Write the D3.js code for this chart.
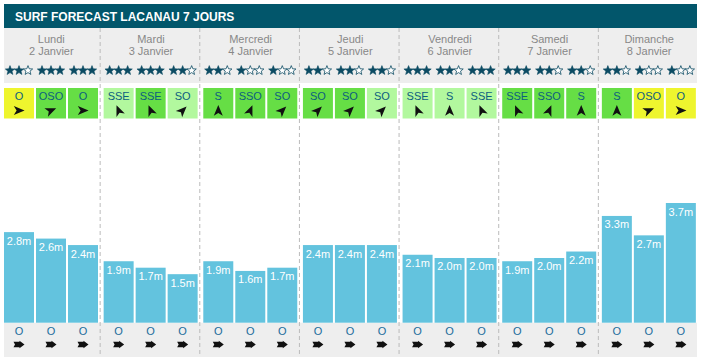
<!DOCTYPE html>
<html>
<head>
<meta charset="utf-8">
<script src="https://cdn.jsdelivr.net/npm/d3@7"></script>
<style>
  body { margin: 0; background: #fff; }
  text { font-family: "Liberation Sans", Arial, sans-serif; }
</style>
</head>
<body>
<div id="chart"></div>
<script>
// donnees
var days = ["Lundi", "Mardi", "Mercredi", "Jeudi", "Vendredi", "Samedi", "Dimanche"];
var dates = ["2 Janvier", "3 Janvier", "4 Janvier", "5 Janvier", "6 Janvier", "7 Janvier", "8 Janvier"];
var slots = ["matin", "midi", "soir"];
var stars = [[2,3,3],[3,3,2],[2,1,1],[2,2,2],[3,2,3],[3,2,2],[2,1,1]];
var windDir = [["O","OSO","O"],["SSE","SSE","SO"],["S","SSO","SO"],["SO","SO","SO"],["SSE","S","SSE"],["SSE","SSO","S"],["S","OSO","O"]];
// force du vent : 0 = faible, 1 = moyen, 2 = fort
var windLevel = [[2,1,1],[0,1,0],[1,1,1],[1,1,0],[0,0,0],[1,1,1],[1,2,2]];
var waveHeight = [[2.8,2.6,2.4],[1.9,1.7,1.5],[1.9,1.6,1.7],[2.4,2.4,2.4],[2.1,2.0,2.0],[1.9,2.0,2.2],[3.3,2.7,3.7]];
var swellDir = [["O","O","O"],["O","O","O"],["O","O","O"],["O","O","O"],["O","O","O"],["O","O","O"],["O","O","O"]];

var width = 701, height = 363;
var left = 4, right = 697;

// angle de la fleche (direction ou va le vent)
var dirAngle = { "N": 180, "S": 0, "O": 90, "E": 270, "SO": 45, "SSO": 22.5, "OSO": 67.5, "SSE": 337.5, "SE": 315 };
var windColor = d3.scaleOrdinal().domain([0,1,2]).range(["#b2f89e", "#66de45", "#eef52e"]);

var svg = d3.select('#chart').append('svg')
  .attr('width', width)
  .attr('height', height);

var x = d3.scaleBand().domain(d3.range(7)).range([0.5, 698]).padding(0);
var xi = d3.scaleBand().domain(d3.range(3)).range([3.5, 97.5]).paddingInner(0.0625).paddingOuter(0);
var y = d3.scaleLinear().domain([0, 3.7]).range([322.7, 203]);

// titre
svg.append('rect').attr('x', left).attr('y', 4).attr('width', right - left).attr('height', 24).attr('fill', '#02566b');
svg.append('text').attr('x', 15).attr('y', 20.5)
  .attr('fill', '#fff').attr('font-weight', 'bold').attr('font-size', 12)
  .text('SURF FORECAST LACANAU 7 JOURS');

// fonds gris
svg.append('rect').attr('x', left).attr('y', 28).attr('width', right - left).attr('height', 55).attr('fill', '#eeeeee');
svg.append('rect').attr('x', left).attr('y', 322.7).attr('width', right - left).attr('height', 34.3).attr('fill', '#eeeeee');

var starPath = (function() {
  var pts = [];
  for (var k = 0; k < 10; k++) {
    var r = k % 2 === 0 ? 4.9 : 2.1;
    var a = -Math.PI / 2 + k * Math.PI / 5;
    pts.push([r * Math.cos(a), r * Math.sin(a) + 0.5]);
  }
  return d3.line()(pts) + 'Z';
})();
var windArrow = 'M0,-5.6L4.5,5.2L0,2.4L-4.5,5.2Z';
var swellArrow = 'M-5.5,-2.8L0.5,-2.8L0.5,-3.8L5.5,0L0.5,3.8L0.5,2.8L-5.5,2.8L-4,0Z';

var day = svg.selectAll('.day')
  .data(days)
  .enter().append('g')
  .attr('class', 'day')
  .attr('transform', function(d, i) { return 'translate(' + x(i) + ',0)'; });

day.append('text')
  .attr('x', x.bandwidth() / 2 + 1).attr('y', 42.5)
  .attr('text-anchor', 'middle').attr('font-size', 11).attr('fill', '#888')
  .text(function(d) { return d; });
day.append('text')
  .attr('x', x.bandwidth() / 2 + 1).attr('y', 54.5)
  .attr('text-anchor', 'middle').attr('font-size', 11).attr('fill', '#888')
  .text(function(d, i) { return dates[i]; });

// separateurs
svg.selectAll('.sep')
  .data(d3.range(1, 7))
  .enter().append('line')
  .attr('x1', function(i) { return x(i); })
  .attr('x2', function(i) { return x(i); })
  .attr('y1', 28).attr('y2', 357)
  .attr('stroke', '#bbb').attr('stroke-width', 1).attr('stroke-dasharray', '4,3');

var slot = day.selectAll('.slot')
  .data(function(d, i) {
    return slots.map(function(s, j) {
      return { day: i, j: j, stars: stars[i][j], wind: windDir[i][j], level: windLevel[i][j], h: waveHeight[i][j], swell: swellDir[i][j] };
    });
  })
  .enter().append('g')
  .attr('class', 'slot')
  .attr('transform', function(d) { return 'translate(' + xi(d.j) + ',0)'; });

var bw = xi.bandwidth();

// etoiles
slot.each(function(d) {
  var g = d3.select(this);
  for (var k = 0; k < 3; k++) {
    g.append('path')
      .attr('d', starPath)
      .attr('transform', 'translate(' + (bw / 2 - 9 + k * 9) + ',70)')
      .attr('fill', k < d.stars ? '#0c4b63' : '#fff')
      .attr('stroke', '#0c4b63').attr('stroke-width', k < d.stars ? 0.6 : 0.8)
      .attr('stroke-linejoin', 'round');
  }
});

// vent
slot.append('rect')
  .attr('x', 0).attr('y', 88).attr('width', bw).attr('height', 30.5)
  .attr('fill', function(d) { return windColor(d.level); });
slot.append('text')
  .attr('x', bw / 2).attr('y', 100)
  .attr('text-anchor', 'middle').attr('font-size', 11).attr('fill', '#0d5e7e')
  .text(function(d) { return d.wind; });
slot.append('path')
  .attr('d', windArrow)
  .attr('transform', function(d) { return 'translate(' + bw / 2 + ',110.5) rotate(' + dirAngle[d.wind] + ')'; })
  .attr('fill', '#111');

// vagues
slot.append('rect')
  .attr('x', 0).attr('width', bw)
  .attr('y', function(d) { return y(d.h); })
  .attr('height', function(d) { return y(0) - y(d.h); })
  .attr('fill', '#63c3de');
slot.append('text')
  .attr('x', bw / 2)
  .attr('y', function(d) { return y(d.h) + 12.5; })
  .attr('text-anchor', 'middle').attr('font-size', 11).attr('fill', '#fff')
  .text(function(d) { return d.h.toFixed(1) + 'm'; });

// houle
slot.append('text')
  .attr('x', bw / 2).attr('y', 334.5)
  .attr('text-anchor', 'middle').attr('font-size', 11).attr('fill', '#1b6c9c')
  .text(function(d) { return d.swell; });
slot.append('path')
  .attr('d', swellArrow)
  .attr('transform', function(d) { return 'translate(' + bw / 2 + ',344.5) rotate(' + (dirAngle[d.swell] - 90) + ')'; })
  .attr('fill', '#111');
</script>
</body>
</html>
